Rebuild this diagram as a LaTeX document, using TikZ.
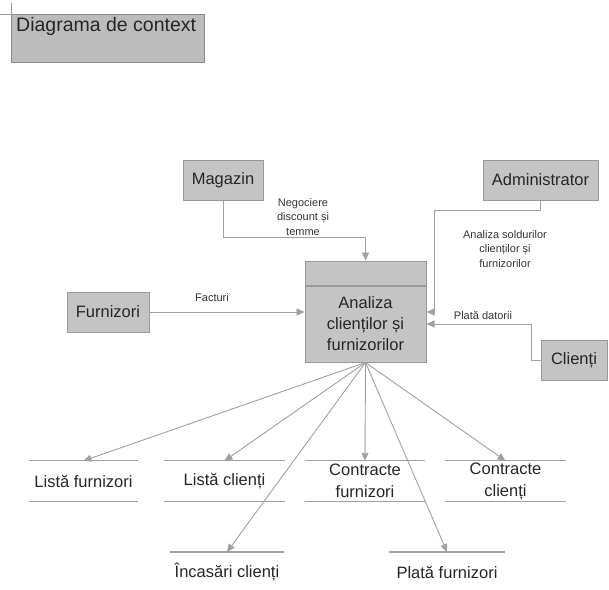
\documentclass[tikz,border=0pt]{standalone}
\usepackage{fontspec}
\setmainfont{Liberation Sans}
\usetikzlibrary{arrows.meta}
\definecolor{boxgray}{HTML}{C4C4C4}
\definecolor{titlegray}{HTML}{BCBCBC}
\definecolor{edgegray}{HTML}{999999}
\definecolor{linegray}{HTML}{A0A0A0}
\begin{document}
\begin{tikzpicture}[x=1pt,y=-1pt,
entity/.style={draw=edgegray,fill=boxgray,line width=1pt,font=\fontsize{16.5}{21}\selectfont,text=black!85,inner sep=0pt,align=center},
flow/.style={draw=linegray,line width=0.9pt,-{Triangle[length=8pt,width=7pt]}},
tag/.style={font=\fontsize{11}{14.5}\selectfont,align=center,text=black!80},
store/.style={font=\fontsize{16.5}{22}\selectfont,align=center,text=black!85,minimum height=40pt,inner sep=0pt},
storeline/.style={draw=linegray,line width=1.2pt}]
\useasboundingbox (0,0) rectangle (609,589);

\node[entity,fill=titlegray,draw=edgegray!90!black,line width=1.2pt,minimum width=193pt,minimum height=48pt,anchor=north west] (titlu) at (11,14) {};
\node[anchor=north west,font=\fontsize{19.5}{24}\selectfont,text=black!85,inner sep=3.5pt] (titlutext) at ([xshift=1.5pt]titlu.north west) {Diagrama de context};
\draw[edgegray,line width=0.8pt] (0,14) -- (titlu.north west) -- ++(0,-11);

\node[entity,minimum width=80pt,minimum height=40pt] (magazin) at (223,180) {Magazin};
\node[entity,minimum width=115pt,minimum height=40pt] (admin) at (540.5,180) {Administrator};
\node[entity,minimum width=82pt,minimum height=40pt] (furnizori) at (108,312) {Furnizori};
\node[entity,minimum width=66pt,minimum height=40pt] (clienti) at (574,360) {Clienți};

\node[entity,minimum width=121pt,minimum height=76pt] (proc) at (365.5,324) {Analiza\\clienților și\\furnizorilor};
\node[entity,minimum width=121pt,minimum height=24pt,anchor=south west] (proctop) at (proc.north west) {};

\draw[flow] (magazin.south) -- ++(0,37) -| (proctop.north);
\node[tag] (negociere) at (303,217) {Negociere\\discount și\\temme};
\draw[flow] (admin.south) -- ++(0,10) -| ([xshift=8pt,yshift=12pt]proc.east) -- ([yshift=12pt]proc.east);
\node[tag] (solduri) at (505,249) {Analiza soldurilor\\clienților și\\furnizorilor};
\draw[flow] (clienti.west) -- ++(-9,0) |- (proc.east);
\node[tag] (plata) at (483,315) {Plată datorii};
\draw[flow] (furnizori.east) -- (furnizori.east -| proc.west);
\node[tag] (facturi) at (212,298) {Facturi};

\node[store,minimum width=109pt] (lf) at (83.5,481) {Listă furnizori};
\node[store,minimum width=121pt] (lc) at (224.5,481) {Listă clienți};
\node[store,minimum width=120pt] (cf) at (365,481) {Contracte\\furnizori};
\node[store,minimum width=121pt] (cc) at (505.5,481) {Contracte\\clienți};
\node[store,minimum width=114pt,anchor=north] (ic) at (227,552) {Încasări clienți};
\node[store,minimum width=116pt,anchor=north] (pf) at (447,552) {Plată furnizori};
\foreach \s in {lf,lc,cf,cc} {
\draw[storeline] (\s.north west) -- (\s.north east) (\s.south west) -- (\s.south east);
}
\foreach \s in {ic,pf} {
\draw[storeline] (\s.north west) -- (\s.north east);
}

\foreach \s in {lf,lc,cf,cc,ic,pf} {
\draw[flow] (proc.south) -- (\s.north);
}
\end{tikzpicture}
\end{document}
